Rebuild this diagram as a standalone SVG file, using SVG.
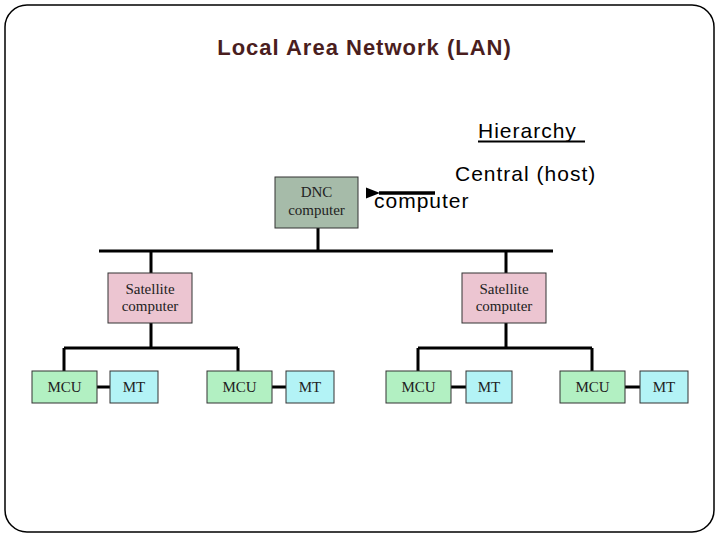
<svg xmlns="http://www.w3.org/2000/svg" width="720" height="540" viewBox="0 0 720 540">
<style>
.box{stroke:#333;stroke-width:1}
.dnc{fill:#a6bba9}
.sat{fill:#ecc5d1}
.mcu{fill:#b2f0c2}
.mt{fill:#b3f3f6}
.lbl{font-family:"Liberation Serif","Times New Roman",serif;font-size:15px;fill:#222;text-anchor:middle}
.sans{font-family:"Liberation Sans",Arial,sans-serif;font-size:21px;fill:#000;letter-spacing:1px}
.wire{stroke:#000;stroke-width:3;fill:none}
</style>
<defs>
<marker id="ah" markerWidth="14" markerHeight="12" refX="1" refY="6" orient="auto" markerUnits="userSpaceOnUse"><path d="M14,0.5 L0,6 L14,11.5 Z" fill="#000"/></marker>
</defs>
<rect x="5" y="5" width="709" height="527" rx="22" ry="22" fill="#fff" stroke="#000" stroke-width="1.5"/>
<text x="364.5" y="55" font-family="Liberation Sans,Arial,sans-serif" font-size="22" font-weight="bold" letter-spacing="1" fill="#4a1e1e" text-anchor="middle">Local Area Network (LAN)</text>
<text class="sans" x="478" y="138">Hierarchy</text>
<line x1="478" y1="141.5" x2="585" y2="141.5" stroke="#000" stroke-width="2"/>
<text class="sans" x="455" y="181">Central (host)</text>
<text class="sans" x="374" y="208">computer</text>
<line x1="435" y1="193" x2="379" y2="193" stroke="#000" stroke-width="3.5" marker-end="url(#ah)"/>
<g id="connectors">
<path class="wire" d="M318 228 V251 M99 251 H553 M151 251 V273 M506 251 V273"/>
<path class="wire" d="M151 323 V348 M64 348 H238 M64 348 V371 M238 348 V371"/>
<path class="wire" d="M506 323 V348 M418 348 H592 M418 348 V371 M592 348 V371"/>
<path class="wire" d="M97 387 H110 M272 387 H286 M451 387 H466 M625 387 H640"/>
</g>
<g id="dnc"><rect class="box dnc" x="275" y="177" width="83" height="51"/><text class="lbl" x="316.5" y="197">DNC</text><text class="lbl" x="316.5" y="215">computer</text></g>
<g id="sat1"><rect class="box sat" x="108" y="273" width="84" height="50"/><text class="lbl" x="150" y="294">Satellite</text><text class="lbl" x="150" y="311">computer</text></g>
<g id="sat2"><rect class="box sat" x="462" y="273" width="84" height="50"/><text class="lbl" x="504" y="294">Satellite</text><text class="lbl" x="504" y="311">computer</text></g>
<g id="mcu1"><rect class="box mcu" x="32" y="371" width="65" height="32"/><text class="lbl" x="64.5" y="392">MCU</text></g>
<g id="mt1"><rect class="box mt" x="110" y="371" width="48" height="32"/><text class="lbl" x="134" y="392">MT</text></g>
<g id="mcu2"><rect class="box mcu" x="207" y="371" width="65" height="32"/><text class="lbl" x="239.5" y="392">MCU</text></g>
<g id="mt2"><rect class="box mt" x="286" y="371" width="48" height="32"/><text class="lbl" x="310" y="392">MT</text></g>
<g id="mcu3"><rect class="box mcu" x="386" y="371" width="65" height="32"/><text class="lbl" x="418.5" y="392">MCU</text></g>
<g id="mt3"><rect class="box mt" x="466" y="371" width="46" height="32"/><text class="lbl" x="489" y="392">MT</text></g>
<g id="mcu4"><rect class="box mcu" x="560" y="371" width="65" height="32"/><text class="lbl" x="592.5" y="392">MCU</text></g>
<g id="mt4"><rect class="box mt" x="640" y="371" width="48" height="32"/><text class="lbl" x="664" y="392">MT</text></g>
</svg>
